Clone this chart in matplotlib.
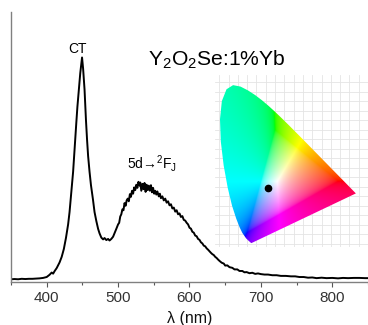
import numpy as np
import matplotlib
matplotlib.use("Agg")
import matplotlib.pyplot as plt
from matplotlib.patches import Polygon
from matplotlib.ticker import MultipleLocator

plt.rcParams["font.family"] = ["Liberation Sans", "DejaVu Sans"]
plt.rcParams["mathtext.fontset"] = "custom"
plt.rcParams["mathtext.rm"] = "Liberation Sans"
plt.rcParams["mathtext.it"] = "Liberation Sans:italic"
plt.rcParams["mathtext.bf"] = "Liberation Sans:bold"

# emission spectrum (normalised to CT peak)
wavelength = [
    350, 355, 360, 365, 370, 375, 380, 385, 390, 395, 400, 404, 407, 409, 411,
    414, 418, 421, 424, 427, 430, 432, 434.5, 437, 439, 441.5, 443, 445, 447,
    449.5, 451, 453, 455, 456.5, 458, 460, 462, 464.8, 467, 469.5, 472, 474,
    476.5, 479, 481, 483.5, 486, 488, 490.5, 493, 495, 497.5,
    500, 501.5, 503, 504.5, 506, 507.5, 509, 510.5, 512, 513.5, 515, 516.5,
    518, 519.5, 521, 522.5, 524, 525.5, 527, 528.5, 530, 531, 532.5, 534,
    535.5, 537, 538.5, 540, 541.5, 543, 544.5, 546, 547.5, 549, 550.5, 552,
    553.5, 555, 557, 558.5, 560, 562, 564, 566, 568, 570, 572, 574, 576, 578,
    580, 582, 584, 586, 588, 590, 592, 594, 596, 598, 600, 602, 604, 606, 608,
    610, 612, 614, 616, 618, 620, 622, 624, 626, 628, 630, 632, 634, 636, 638,
    640, 642, 645, 648, 650, 653, 656, 660, 663, 667, 670, 674, 677, 680, 684,
    688, 692, 696, 700, 705, 710, 716, 722, 728, 735, 742, 748, 754, 760, 766,
    772, 778, 785, 792, 800, 808, 815, 822, 830, 838, 846, 850,
]
intensity = [
    0.010, 0.011, 0.010, 0.012, 0.011, 0.012, 0.012, 0.013, 0.014, 0.016, 0.020,
    0.030, 0.040, 0.035, 0.046, 0.060, 0.085, 0.110, 0.145, 0.195, 0.255, 0.310,
    0.400, 0.490, 0.590, 0.710, 0.780, 0.857, 0.930, 1.000, 0.950, 0.857, 0.720,
    0.634, 0.560, 0.490, 0.430, 0.366, 0.310, 0.270, 0.235, 0.215, 0.196, 0.188,
    0.194, 0.185, 0.190, 0.183, 0.190, 0.200, 0.215, 0.235,
    0.255, 0.262, 0.290, 0.300, 0.322, 0.318, 0.350, 0.338, 0.362, 0.370, 0.358,
    0.390, 0.378, 0.405, 0.392, 0.420, 0.408, 0.432, 0.418, 0.445, 0.428, 0.442,
    0.405, 0.436, 0.412, 0.440, 0.400, 0.432, 0.408, 0.428, 0.405, 0.430, 0.398,
    0.418, 0.392, 0.405, 0.388, 0.402, 0.380, 0.392, 0.372, 0.380, 0.362, 0.370,
    0.352, 0.358, 0.340, 0.345, 0.326, 0.330, 0.312, 0.318, 0.300, 0.304, 0.288,
    0.292, 0.275, 0.272, 0.262, 0.255, 0.240, 0.236, 0.222, 0.218, 0.205, 0.202,
    0.190, 0.186, 0.175, 0.170, 0.160, 0.157, 0.148, 0.142, 0.135, 0.128, 0.122,
    0.118, 0.110, 0.105, 0.098, 0.092, 0.084, 0.080, 0.071, 0.072, 0.064, 0.061,
    0.054, 0.054, 0.047, 0.047, 0.041, 0.042, 0.037, 0.039, 0.034, 0.036, 0.033,
    0.031, 0.031, 0.028, 0.028, 0.025, 0.025, 0.023, 0.023, 0.020, 0.020, 0.017,
    0.018, 0.015, 0.017, 0.015, 0.016, 0.014, 0.016, 0.015, 0.016, 0.016, 0.015,
    0.015,
]
x_ticks = [400, 500, 600, 700, 800]

# CIE 1931 spectral locus (x, y)
cie_x = [0.1741, 0.1733, 0.1726, 0.1714, 0.1689, 0.1644, 0.1566, 0.1440, 0.1241,
         0.1096, 0.0913, 0.0687, 0.0454, 0.0235, 0.0082, 0.0039, 0.0139, 0.0389,
         0.0743, 0.1142, 0.1547, 0.1929, 0.2296, 0.2658, 0.3016, 0.3373, 0.3731,
         0.4441, 0.5125, 0.5752, 0.6270, 0.6658, 0.6915, 0.7079, 0.7190, 0.7260,
         0.7300, 0.7334, 0.7347]
cie_y = [0.0050, 0.0048, 0.0048, 0.0051, 0.0069, 0.0109, 0.0177, 0.0297, 0.0578,
         0.0868, 0.1327, 0.2007, 0.2950, 0.4127, 0.5384, 0.6548, 0.7502, 0.8120,
         0.8338, 0.8262, 0.8059, 0.7816, 0.7543, 0.7243, 0.6923, 0.6589, 0.6245,
         0.5547, 0.4866, 0.4242, 0.3725, 0.3340, 0.3083, 0.2920, 0.2809, 0.2740,
         0.2700, 0.2666, 0.2653]
point_x = 0.262
point_y = 0.294


def chromaticity_rgb(xx, yy):
    # xy -> XYZ (Y=1) -> sRGB, out-of-gamut colours desaturated by adding white
    yy = np.clip(yy, 1e-4, None)
    X = xx / yy
    Z = (1 - xx - yy) / yy
    Y = np.ones_like(X)
    m = np.array([[3.2406, -1.5372, -0.4986],
                  [-0.9689, 1.8758, 0.0415],
                  [0.0557, -0.2040, 1.0570]])
    rgb = np.einsum("ij,jkl->kli", m, np.stack([X, Y, Z]))
    low = np.minimum(rgb.min(axis=2, keepdims=True), 0)
    rgb = rgb - low
    rgb = rgb / np.clip(rgb.max(axis=2, keepdims=True), 1e-9, None)
    rgb = np.where(rgb <= 0.0031308, 12.92 * rgb, 1.055 * rgb ** (1 / 2.4) - 0.055)
    return np.clip(rgb, 0, 1)


fig = plt.figure(figsize=(3.68, 3.25), dpi=100)
ax = fig.add_axes([11 / 368, 1 - 281.5 / 325, 1 - 11 / 368, (281.5 - 12) / 325])
ax.plot(wavelength, intensity, color="black", lw=1.4)
ax.set_xlim(350, 850)
ax.set_ylim(0, 1.203)
for side in ["top", "right"]:
    ax.spines[side].set_visible(False)
for side in ["left", "bottom"]:
    ax.spines[side].set_color("#808080")
    ax.spines[side].set_linewidth(1.0)
ax.set_yticks([])
ax.set_xticks(x_ticks)
ax.xaxis.set_minor_locator(MultipleLocator(50))
ax.tick_params(axis="x", which="major", length=3.5, width=0.8, color="#555555",
               labelsize=11, labelcolor="#333333", pad=3)
ax.tick_params(axis="x", which="minor", length=2, width=0.8, color="#555555")
ax.set_xlabel("λ (nm)", fontsize=11.5, labelpad=5, color="#111111")

ax.text(443.8, 1.019, "CT", fontsize=10, ha="center", va="baseline")
ax.text(637.8, 0.964, "Y$_2$O$_2$Se:1%Yb", fontsize=15.2, ha="center", va="baseline")
ax.text(546.9, 0.502, "5d→$^2$F$_\\mathrm{J}$", fontsize=10, ha="center", va="baseline")

# CIE inset
xmin, xmax, ymin, ymax = -0.023, 0.80, -0.016, 0.887
ax_in = fig.add_axes([215 / 368, 1 - 247 / 325, 153 / 368, 172 / 325])
ax_in.set_xlim(xmin, xmax)
ax_in.set_ylim(ymin, ymax)
ax_in.set_xticks(np.arange(0, 0.81, 0.05))
ax_in.set_yticks(np.arange(0, 0.89, 0.05))
ax_in.tick_params(length=0, labelbottom=False, labelleft=False)
ax_in.grid(color="#e4e4e4", lw=0.6)
ax_in.set_axisbelow(True)
for s in ax_in.spines.values():
    s.set_visible(False)

gx, gy = np.meshgrid(np.linspace(xmin, xmax, 400), np.linspace(ymin, ymax, 400))
img = ax_in.imshow(chromaticity_rgb(gx, gy), extent=(xmin, xmax, ymin, ymax),
                   origin="lower", aspect="auto", interpolation="bilinear", zorder=2)
locus = Polygon(np.column_stack([cie_x, cie_y]), closed=True, transform=ax_in.transData,
                facecolor="none", edgecolor="none")
ax_in.add_patch(locus)
img.set_clip_path(locus)
ax_in.plot(point_x, point_y, "o", color="black", ms=4.5, zorder=3)

fig.savefig("out.png", dpi=100)
